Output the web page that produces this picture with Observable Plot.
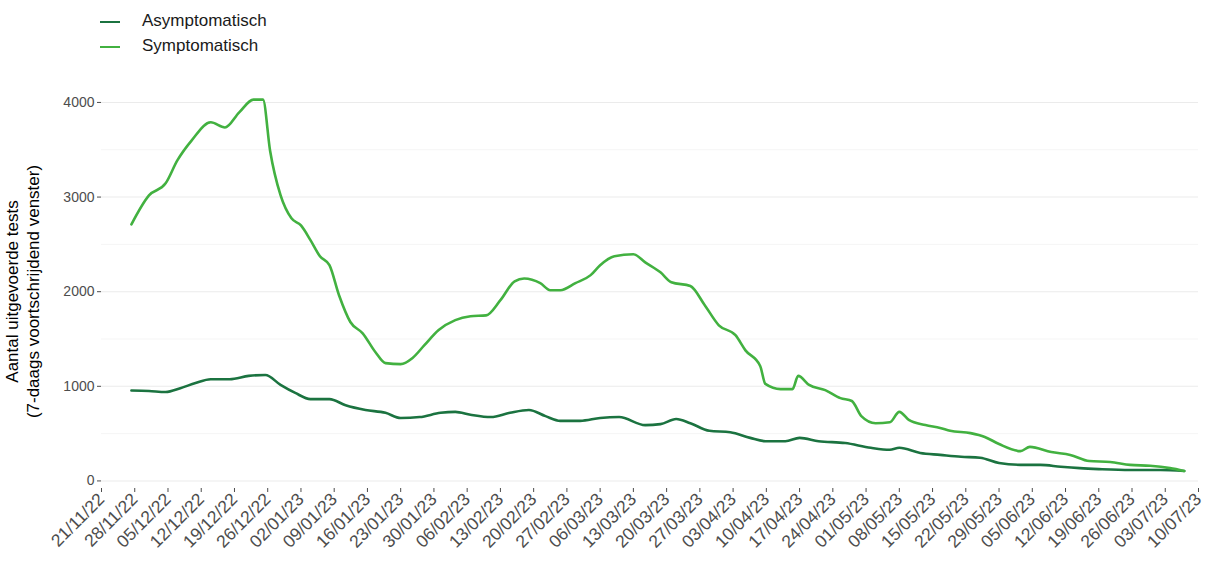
<!DOCTYPE html>
<html>
<head>
<meta charset="utf-8">
<script src="https://cdn.jsdelivr.net/npm/d3@7"></script>
<script src="https://cdn.jsdelivr.net/npm/@observablehq/plot@0.6"></script>
<style>
  body { margin: 0; background: #fff; font-family: "Liberation Sans", Arial, sans-serif; }
  #wrap { position: relative; width: 1210px; height: 583px; }
  #legend { position: absolute; left: 100px; top: 8px; font-size: 17px; color: #1a1a1a; line-height: 25px; }
  #legend span.sw { display: inline-block; width: 20px; height: 2px; vertical-align: middle; margin-right: 22px; }
</style>
</head>
<body>
<div id="wrap">
  <div id="chart"></div>
  <div id="legend">
    <div><span class="sw" style="background:#1b7340"></span>Asymptomatisch</div>
    <div><span class="sw" style="background:#42b140"></span>Symptomatisch</div>
  </div>
</div>
<script>
// day offsets from 21/11/2022
const symDays = [6.3,10,13.5,16,19,23,26,29,32,34,35.5,37.7,40,42,44,46,48,50,52.4,55,57.7,59.8,63,65.5,68,71,74.5,77.7,81,84,87,89,92.4,94.5,96.6,99.8,103,105,108,112,114.5,117.7,120,124,127,130,133.5,135.6,138.7,139.8,143,145.5,146.7,149,152.4,155.6,158,160,163,166,168,170,173.5,176.6,178.7,183,186,189,193.5,195.5,200,204,208,212.4,216.6,220.8,225,228];
const symVals = [2712,3018,3145,3390,3600,3790,3735,3895,4030,4030,3490,3020,2775,2700,2545,2375,2280,1965,1680,1560,1360,1245,1235,1300,1435,1595,1700,1740,1750,1910,2110,2140,2090,2015,2015,2090,2175,2280,2375,2395,2310,2205,2100,2060,1860,1645,1540,1380,1215,1025,970,970,1110,1015,960,875,845,685,610,620,730,645,590,560,530,505,465,390,315,360,305,275,210,200,170,160,135,105];
const asymDays = [6.3,10,13.5,16.6,19.8,23,27,31,34.5,37.7,40.8,44,48,51.4,55.6,59.8,63,67,71.4,74.5,77.7,82,86,90,93.5,96.6,100.8,105,109,114.5,117.7,121,124,128,132.4,136.6,139.8,144,147,151,156.6,162,166,168,172.4,176.6,181,185,189,193.5,197.7,202,206,210,216.6,223,228];
const asymVals = [955,950,940,980,1035,1075,1075,1110,1120,1015,930,865,865,800,750,720,665,675,720,730,700,675,720,750,685,635,635,665,675,590,600,655,610,530,515,455,420,420,455,420,400,350,330,350,295,275,255,245,190,170,170,150,135,125,115,115,105];

const start = new Date(Date.UTC(2022, 10, 21));
const end = new Date(Date.UTC(2023, 6, 10));
const toDate = d => new Date(start.getTime() + d * 864e5);
const rows = [
  ...asymDays.map((d, i) => ({date: toDate(d), value: asymVals[i], type: "Asymptomatisch"})),
  ...symDays.map((d, i) => ({date: toDate(d), value: symVals[i], type: "Symptomatisch"}))
];
const weekTicks = d3.utcMonday.range(start, new Date(Date.UTC(2023, 6, 11)));
const fmt = d3.utcFormat("%d/%m/%y");

const chart = Plot.plot({
  width: 1210, height: 583,
  marginLeft: 101, marginRight: 12, marginTop: 80, marginBottom: 95,
  style: {fontFamily: "Liberation Sans, Arial, sans-serif", background: "#fff"},
  x: {type: "utc", domain: [start, end]},
  y: {domain: [-80, 4232]},
  color: {domain: ["Asymptomatisch", "Symptomatisch"], range: ["#1b7340", "#42b140"]},
  marks: [
    Plot.ruleY(d3.range(500, 4500, 1000), {stroke: "#f2f2f2", strokeWidth: 0.8}),
    Plot.ruleY(d3.range(0, 4001, 1000), {stroke: "#ebebeb", strokeWidth: 1.1}),
    Plot.axisY({ticks: d3.range(0, 4001, 1000), tickFormat: d => String(d), fontSize: 14, color: "#4d4d4d", tickSize: 4, tickPadding: 3, label: null}),
    Plot.axisX({ticks: weekTicks, tickFormat: fmt, tickRotate: -45, fontSize: 17.5, color: "#4d4d4d", tickSize: 4, tickPadding: 4, label: null}),
    Plot.text(["Aantal uitgevoerde tests", "(7-daags voortschrijdend venster)"], {
      text: d => d, frameAnchor: "left", rotate: -90, fontSize: 17, fill: "#000"
    }),
    Plot.line(rows, {x: "date", y: "value", stroke: "type", z: "type", strokeWidth: 2.6, curve: "monotone-x"})
  ]
});
// position y-label lines
d3.select(chart).selectAll("g[aria-label=text] text").each(function(d, i) {
  const x = i === 0 ? 17 : 38;
  d3.select(this).attr("transform", `translate(${x},291) rotate(-90)`).attr("text-anchor", "middle").attr("x", null).attr("y", null);
});
document.getElementById("chart").appendChild(chart);
</script>
</body>
</html>
